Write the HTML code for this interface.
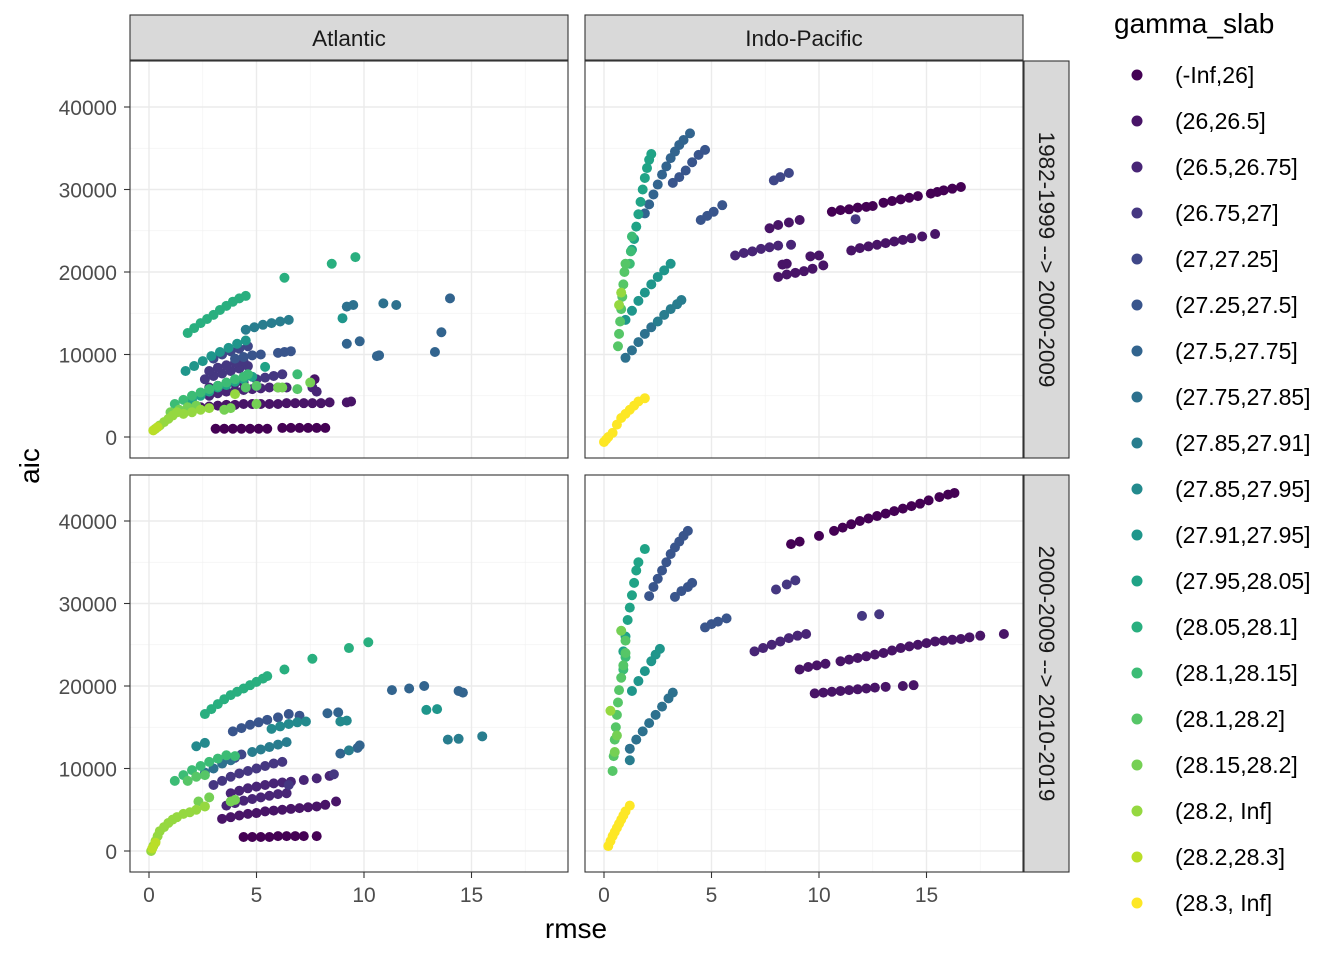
<!DOCTYPE html>
<html><head><meta charset="utf-8"><style>
html,body{margin:0;padding:0;background:#fff;}
svg{display:block;font-family:"Liberation Sans",sans-serif;}
</style></head><body>
<svg id="chart" width="1344" height="960" viewBox="0 0 1344 960" xmlns="http://www.w3.org/2000/svg"></svg>
<script>
const levels = ["(-Inf,26]","(26,26.5]","(26.5,26.75]","(26.75,27]","(27,27.25]","(27.25,27.5]","(27.5,27.75]","(27.75,27.85]","(27.85,27.91]","(27.85,27.95]","(27.91,27.95]","(27.95,28.05]","(28.05,28.1]","(28.1,28.15]","(28.1,28.2]","(28.15,28.2]","(28.2, Inf]","(28.2,28.3]","(28.3, Inf]"];
const colors = ["#440154","#481467","#482576","#453781","#3F4788","#39558C","#32648E","#2D718E","#287D8E","#238A8D","#1F968B","#20A386","#29AF7F","#3CBC75","#56C667","#75D054","#95D840","#BADE28","#FDE725"];
const xTicks = [0,5,10,15];
const yTicks = [0,10000,20000,30000,40000];
const colFacets = ["Atlantic","Indo-Pacific"];
const rowFacets = ["1982-1999 --> 2000-2009","2000-2009 --> 2010-2019"];
// data: "colorIndex:rmse,aic(thousands) ..."
const dataTL = [
"0:3.1,1 3.5,1 3.9,1 4.3,1 4.7,1 5.1,1 5.5,1 6.2,1.1 6.6,1.1 7,1.1 7.4,1.1 7.8,1.1 8.2,1.1",
"1:2.4,3.6 2.8,3.7 3.2,3.8 3.6,3.9 4,3.9 4.4,4 4.8,4 5.2,4 5.6,4 6,4 6.4,4.1 6.8,4.1 7.2,4.1 7.6,4.1 8,4.1 8.4,4.2 9.2,4.2 9.4,4.3 7.7,7",
"2:2.8,5 3.2,5.3 3.6,5.5 4,5.6 4.4,5.7 4.8,5.8 5.2,5.9 5.6,6 6,6 6.4,6 2.8,6 3.2,6.2 3.6,6.4 4,6.5 4.4,6.6 7.6,6 7.8,5.5",
"3:2.6,7 3,7.4 3.4,7.7 3.8,8 4.2,8.3 4.6,8.6 2.8,8 3.2,8.4 3.6,8.7 4,9 4.4,9.2 5,7 5.4,7.2 5.8,7.4 6.2,7.6",
"4:3,9.5 3.4,10 3.8,10.4 4.2,10.7 4.6,11",
"5:4,9.5 4.4,9.7 4.8,9.9 5.2,10 6,10.2 6.3,10.3 6.6,10.4",
"6:9.2,11.3 9.8,11.6 10.6,9.8 10.7,9.9 13.3,10.3 13.6,12.7 14,16.8",
"7:9.2,15.8 9.5,16 10.9,16.2 11.5,16",
"8:4.5,13 4.9,13.3 5.3,13.6 5.7,13.8 6.1,14 6.5,14.2",
"10:1.7,8 2.1,8.6 2.5,9.2 2.9,9.8 3.3,10.3 3.7,10.8 4.1,11.3 4.5,11.7 9,14.4",
"11:2,4.5 2.4,5 2.8,5.5 3.2,6 3.6,6.3 4,6.7 4.4,7 4.8,7.3 5.4,8.5",
"12:1.8,12.6 2.1,13.2 2.4,13.8 2.7,14.3 3,14.8 3.3,15.4 3.6,15.9 3.9,16.4 4.2,16.8 4.5,17.1 6.3,19.3 8.5,21 9.6,21.8",
"13:1.2,4 1.6,4.5 2,5 2.4,5.4 2.8,5.8 3.2,6.2 3.6,6.6 4,7 4.4,7.3 4.6,7.6 6.9,7.6",
"14:4.5,6 5,6.2 6.9,5.8",
"15:1,3 1.4,3.3 1.8,3.6 2.2,3.8 3.5,3.3 3.8,3.5 5,4 6,6 6.2,6 7.5,6.6",
"16:0.3,1 0.5,1.4 0.7,1.8 0.9,2.2 1.1,2.6 1.3,3 1.6,2.8 2,3 2.4,3.3 2.8,3.5 4,5.2",
"17:0.2,0.8 0.4,1.2"];
const dataTR = [
"0:10.6,27.3 11,27.5 11.4,27.6 11.8,27.8 12.2,27.9 12.5,28 13,28.4 13.4,28.6 13.8,28.8 14.2,29 14.6,29.2 15.2,29.5 15.5,29.7 15.8,29.9 16.2,30.1 16.6,30.3",
"1:7.7,25.3 8.1,25.7 8.6,26 9.1,26.3 8.1,19.4 8.5,19.7 8.9,19.9 9.3,20.1 9.7,20.4 10.2,20.8 8.3,20.9 8.5,21 9.6,21.9 10,22 11.5,22.6 11.9,22.9 12.3,23.1 12.7,23.3 13.1,23.5 13.5,23.7 13.9,23.9 14.3,24.1 14.8,24.3 15.4,24.6",
"2:6.1,22 6.5,22.3 6.9,22.5 7.3,22.8 7.7,23 8.1,23.2 8.7,23.3",
"3:11.7,26.4",
"4:7.9,31.1 8.2,31.5 8.6,32",
"5:4.5,26.3 4.8,26.8 5.1,27.3 5.5,28.1 3.2,30.8 3.5,31.5 3.8,32.3 4.1,33.3 4.4,34.2 4.7,34.8",
"6:1.9,27.1 2.1,28.2 2.3,29.4 2.5,30.6 2.7,31.8 2.9,32.8 3.1,33.8 3.3,34.6 3.5,35.4 3.7,36 4,36.8",
"7:1,9.6 1.3,10.5 1.6,11.5 1.9,12.5 2.2,13.3",
"8:2.5,14 2.8,14.8 3.1,15.5 3.4,16.1 3.6,16.6",
"10:1,14.2 1.3,15.3 1.6,16.5 1.9,17.5 2.2,18.5 2.5,19.4 2.8,20.2 3.1,21",
"11:1.3,22.7 1.4,24 1.5,25.5 1.6,27 1.7,28.5 1.8,30 1.9,31.4 2,32.6 2.1,33.6 2.2,34.3",
"13:1.2,21 1.25,22.5 1.3,24.3",
"14:0.65,11 0.7,12.5 0.75,14 0.8,15.5 0.85,17 0.9,18.5 0.95,20 1,21",
"16:0.7,16 0.8,17.5",
"18:0,-0.6 0.1,-0.3 0.2,0 0.4,0.5 0.6,1.5 0.8,2.3 1,2.8 1.2,3.3 1.4,3.8 1.6,4.3 1.9,4.7"];
const dataBL = [
"0:4.4,1.7 4.8,1.7 5.2,1.7 5.6,1.7 6,1.8 6.4,1.8 6.8,1.8 7.2,1.8 7.8,1.8",
"1:3.4,3.9 3.8,4.1 4.2,4.3 4.6,4.5 5,4.6 5.4,4.8 5.8,4.9 6.2,5 6.6,5.1 7,5.2 7.4,5.3 7.8,5.4 8.2,5.6 8.7,6",
"2:3.6,5.5 4,5.8 4.4,6.1 4.8,6.3 5.2,6.5 5.6,6.7 6,6.9 6.4,7 3.8,7 4.2,7.3 4.6,7.6 5,7.8 5.4,8 5.8,8.2 6.2,8.3 6.6,8.4 7.2,8.6 7.8,8.8 8.4,9.1",
"3:3,8 3.4,8.5 3.8,9 4.2,9.4 4.6,9.7 5,10 5.4,10.3 5.8,10.6 6.2,10.8 8.6,9.3 6.5,8",
"4:4,11.3 4.3,11.7",
"5:3.9,14.5 4.3,14.9 4.7,15.3 5.1,15.6 5.5,15.9 6,16.2 6.5,16.6 7,16.4",
"6:8.9,11.8 9.7,12.5 9.8,12.8 11.3,19.5 12.1,19.7 12.8,20 14.4,19.4 14.6,19.2 8.3,16.7 8.8,16.8",
"7:2.6,9.5 3,10 3.4,10.6 3.8,11",
"8:13.9,13.5 14.4,13.6 15.5,13.9 9.3,12.2 4.8,12 5.2,12.3 5.6,12.6 6,12.9 6.4,13.2",
"9:2.2,12.7 2.6,13.1 5.7,14.8 6.1,15.1 6.5,15.4 6.9,15.6 7.3,15.7 8.9,15.7 9.2,15.8",
"10:12.9,17.1 13.4,17.2",
"12:2.6,16.6 2.9,17.2 3.2,17.8 3.5,18.4 3.8,18.9 4.1,19.3 4.4,19.7 4.7,20.1 5,20.5 5.3,20.9 5.5,21.2 6.3,22 7.6,23.3 9.3,24.6 10.2,25.3",
"13:1.2,8.5 1.6,9.2 2,9.8 2.4,10.3 2.8,10.8 3.2,11.2 3.6,11.6 4,11.5",
"14:1.8,8.5 2.2,9 2.6,9.2",
"15:2.3,6 2.8,6.5 3.8,6 4,6.2",
"16:0.1,0 0.2,0.6 0.3,1.2 0.4,1.8 0.5,2.4 0.7,2.9 0.9,3.4 1.1,3.8 1.3,4.1 1.6,4.5 1.9,4.7 2.2,5 2.6,5.4",
"17:0.15,0.3 0.3,1"];
const dataBR = [
"0:8.7,37.2 9.1,37.5 10,38.2 10.7,38.8 11.1,39.2 11.5,39.6 11.9,40 12.3,40.3 12.7,40.6 13.1,40.9 13.5,41.2 13.9,41.5 14.3,41.8 14.7,42.1 15.1,42.5 15.6,42.9 16,43.2 16.3,43.4",
"1:9.1,22 9.5,22.3 9.9,22.5 10.3,22.7 11,23 11.4,23.2 11.8,23.4 12.2,23.6 12.6,23.8 13,24 13.4,24.3 13.8,24.6 14.2,24.8 14.6,25 15,25.2 15.4,25.4 15.8,25.5 16.2,25.6 16.6,25.7 17,25.9 17.5,26.1 18.6,26.3 9.8,19.1 10.2,19.2 10.6,19.3 11,19.4 11.4,19.5 11.8,19.6 12.2,19.7 12.6,19.8 13.1,19.9 13.9,20 14.4,20.1",
"2:7,24.2 7.4,24.6 7.8,25 8.2,25.4 8.6,25.8 9,26.1 9.4,26.3",
"3:8,31.7 8.5,32.3 8.9,32.8 12,28.5 12.8,28.7",
"5:4.7,27.1 5,27.5 5.3,27.8 5.7,28.2 2.1,30.9 2.3,32 2.5,33 2.7,34 2.9,35 3.1,36 3.3,36.8 3.5,37.5 3.7,38.2 3.9,38.8 3.3,30.8 3.6,31.5 3.9,32 4.1,32.5",
"7:1.2,12.4 1.5,13.5 1.8,14.5 2.1,15.5 2.4,16.5 2.7,17.5 3,18.5 3.2,19.2",
"8:1.2,11",
"10:1.3,19.4 1.6,20.6 1.9,21.8 2.2,23 2.4,23.8 2.6,24.5",
"11:0.9,24.2 1,26 1.1,28 1.2,29.5 1.3,31 1.4,32.5 1.5,34 1.6,35 1.9,36.6",
"13:0.9,22 1,23.5",
"14:0.4,9.7 0.45,11.5 0.5,13.5 0.55,15 0.6,16.5 0.65,18 0.7,19.5 0.8,21 0.9,22.5 1,24 1,25.5",
"15:0.5,12 0.6,14 0.8,26.7",
"16:0.3,17",
"18:0.2,0.6 0.3,1.2 0.4,1.8 0.5,2.3 0.6,2.8 0.7,3.3 0.8,3.8 0.9,4.3 1,4.8 1.2,5.5"];

const NS="http://www.w3.org/2000/svg";
const svg=document.getElementById('chart');
function mk(tag,attrs,parent){const e=document.createElementNS(NS,tag);for(const k in attrs)e.setAttribute(k,attrs[k]);(parent||svg).appendChild(e);return e;}
const panelW=438, panelH=397;
const panels=[{x:130,y:61,d:dataTL,n:'atlantic-early'},{x:585,y:61,d:dataTR,n:'indopacific-early'},{x:130,y:475,d:dataBL,n:'atlantic-late'},{x:585,y:475,d:dataBR,n:'indopacific-late'}];
function sx(p,v){return p.x+19+21.5*v;}
function sy(p,v){return p.y+376-0.00825*v;}
panels.forEach((p,pi)=>{
  const g=mk('g',{});
  
  
  mk('rect',{x:p.x,y:p.y,width:panelW,height:panelH,fill:'#fff'},g);
  [2.5,7.5,12.5,17.5].forEach(v=>mk('line',{x1:sx(p,v),x2:sx(p,v),y1:p.y,y2:p.y+panelH,stroke:'#F2F2F2','stroke-width':0.7},g));
  [5000,15000,25000,35000].forEach(v=>mk('line',{x1:p.x,x2:p.x+panelW,y1:sy(p,v),y2:sy(p,v),stroke:'#F2F2F2','stroke-width':0.7},g));
  xTicks.forEach(v=>mk('line',{x1:sx(p,v),x2:sx(p,v),y1:p.y,y2:p.y+panelH,stroke:'#EBEBEB','stroke-width':1.4},g));
  yTicks.forEach(v=>mk('line',{x1:p.x,x2:p.x+panelW,y1:sy(p,v),y2:sy(p,v),stroke:'#EBEBEB','stroke-width':1.4},g));
  p.d.forEach(s=>{
    const [ci,pts]=s.split(':');
    pts.trim().split(/\s+/).forEach(pt=>{
      const [a,b]=pt.split(',').map(Number);
      const c=mk('circle',{cx:sx(p,a),cy:sy(p,b*1000),r:5,fill:colors[+ci]},g);
      
      
    });
  });
  mk('rect',{x:p.x,y:p.y,width:panelW,height:panelH,fill:'none',stroke:'#333','stroke-width':1.1},g);
  if(pi%2===0){
    yTicks.forEach(v=>{
      mk('line',{x1:p.x-6,x2:p.x,y1:sy(p,v),y2:sy(p,v),stroke:'#333','stroke-width':1.1},g);
      const t=mk('text',{x:p.x-13,y:sy(p,v)+8,'text-anchor':'end','font-size':21,fill:'#4D4D4D'},g);
      t.textContent=v;
      
      
    });
  }
  if(pi>=2){
    xTicks.forEach(v=>{
      mk('line',{x1:sx(p,v),x2:sx(p,v),y1:p.y+panelH,y2:p.y+panelH+6,stroke:'#333','stroke-width':1.1},g);
      const t=mk('text',{x:sx(p,v),y:p.y+panelH+30,'text-anchor':'middle','font-size':21,fill:'#4D4D4D'},g);
      t.textContent=v;
      
      
    });
  }
});
colFacets.forEach((f,i)=>{
  const x=[130,585][i];
  const r=mk('rect',{x:x,y:15,width:panelW,height:45,fill:'#D9D9D9',stroke:'#333','stroke-width':1.1});
  
  
  const t=mk('text',{x:x+panelW/2,y:46,'text-anchor':'middle','font-size':22.5,fill:'#1A1A1A'});
  t.textContent=f;
  
  
});
rowFacets.forEach((f,i)=>{
  const y=[61,475][i];
  const r=mk('rect',{x:1024,y:y,width:45,height:panelH,fill:'#D9D9D9',stroke:'#333','stroke-width':1.1});
  
  
  const t=mk('text',{x:0,y:0,'text-anchor':'middle','font-size':22.5,fill:'#1A1A1A',transform:`translate(1039,${y+panelH/2}) rotate(90)`});
  t.textContent=f;
  
  
});
let t=mk('text',{x:576,y:938,'text-anchor':'middle','font-size':28,fill:'#000'});
t.textContent='rmse';


t=mk('text',{x:0,y:0,'text-anchor':'middle','font-size':28,fill:'#000',transform:'translate(39,466) rotate(-90)'});
t.textContent='aic';


t=mk('text',{x:1114,y:33,'font-size':28,fill:'#000'});
t.textContent='gamma_slab';


levels.forEach((l,i)=>{
  const y=75+46*i;
  const g=mk('g',{});
  
  
  mk('circle',{cx:1137,cy:y,r:5.5,fill:colors[i]},g);
  const tt=mk('text',{x:1175,y:y+8,'font-size':23,fill:'#000'},g);
  tt.textContent=l;
});
</script>
</body></html>
